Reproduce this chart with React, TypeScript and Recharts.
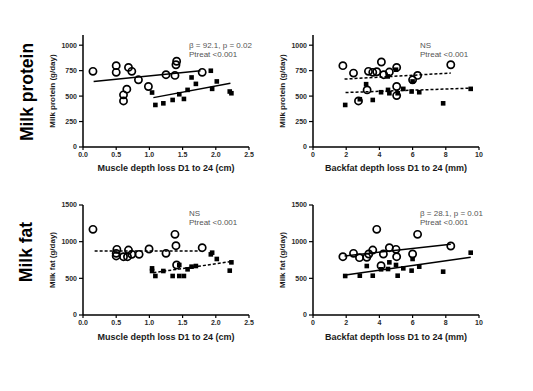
import { ScatterChart, Scatter, XAxis, YAxis } from 'recharts';

// [x, y] pairs; open = circles, filled = squares
const proteinMuscleOpen = [
  [0.15, 743], [0.5, 799], [0.5, 733], [0.685, 782], [0.735, 743], [0.835, 660], [0.66, 568], [0.61, 512],
  [0.61, 452], [0.985, 594], [1.25, 710], [1.385, 703], [1.41, 842], [1.4, 808], [1.795, 733],
];
const proteinMuscleFilled = [
  [1.04, 535], [1.09, 413], [1.21, 429], [1.35, 462], [1.45, 518], [1.52, 472], [1.575, 561], [1.635, 683],
  [1.7, 620], [1.925, 749], [1.945, 571], [2.015, 644], [2.21, 545], [2.235, 528],
];
const proteinMuscleOpenFit = [[0.16, 644], [1.77, 749]];
const proteinMuscleFilledFit = [[1.06, 485], [2.22, 627]];

const proteinBackfatOpen = [
  [1.8, 799], [2.44, 726], [3.34, 743], [3.6, 733], [3.84, 739], [4.12, 835], [4.26, 710], [4.6, 736],
  [5.04, 782], [5.04, 594], [5.04, 505], [6.0, 660], [6.3, 703], [8.3, 808], [3.26, 561], [2.74, 452],
];
const proteinBackfatFilled = [
  [1.94, 413], [2.82, 469], [3.2, 617], [3.6, 462], [4.1, 538], [4.52, 561], [4.6, 528], [4.5, 693],
  [5.0, 759], [5.1, 528], [5.44, 571], [5.94, 545], [6.0, 644], [6.4, 538], [7.84, 429], [9.5, 571],
];
const proteinBackfatOpenFit = [[1.9, 667], [8.3, 726]];
const proteinBackfatFilledFit = [[1.96, 535], [9.5, 578]];

const fatMuscleOpen = [
  [0.15, 1168], [0.51, 895], [0.5, 841], [0.5, 805], [0.61, 795], [0.67, 795], [0.685, 886], [0.735, 827],
  [0.845, 827], [0.995, 900], [1.25, 841], [1.385, 1100], [1.4, 945], [1.41, 682], [1.795, 918],
];
const fatMuscleFilled = [
  [1.04, 636], [1.04, 600], [1.09, 532], [1.21, 600], [1.35, 532], [1.45, 682], [1.45, 532], [1.52, 532],
  [1.575, 623], [1.635, 659], [1.7, 668], [1.925, 827], [1.945, 850], [2.015, 764], [2.21, 605], [2.235, 718],
];
const fatMuscleOpenFit = [[0.175, 873], [1.77, 873]];
const fatMuscleFilledFit = [[1.06, 577], [2.22, 727]];

const fatBackfatOpen = [
  [1.8, 795], [2.44, 841], [2.8, 782], [3.24, 786], [3.36, 832], [3.6, 886], [3.84, 1168], [4.24, 832],
  [4.1, 673], [4.6, 918], [5.0, 895], [5.04, 795], [6.0, 832], [6.3, 1100], [8.3, 941],
];
const fatBackfatFilled = [
  [1.94, 532], [2.82, 536], [3.24, 668], [3.6, 536], [4.1, 623], [4.52, 627], [4.6, 718], [5.0, 682],
  [5.1, 536], [5.44, 636], [5.94, 605], [6.0, 764], [6.4, 659], [7.84, 591], [9.5, 850],
];
const fatBackfatOpenFit = [[1.9, 805], [8.3, 964]];
const fatBackfatFilledFit = [[1.96, 545], [9.5, 786]];

const muscleTicks = [0, 0.5, 1.0, 1.5, 2.0, 2.5];
const backfatTicks = [0, 2, 4, 6, 8, 10];
const proteinTicks = [0, 250, 500, 750, 1000];
const fatTicks = [0, 500, 1000, 1500];

const toPts = (pairs: number[][]) => pairs.map(([x, y]) => ({ x, y }));

const openCircle = (p: any) => (
  <circle cx={p.cx} cy={p.cy} r={3.6} fill="none" stroke="#000" strokeWidth={1.7} />
);
const square = (p: any) => <rect x={p.cx - 2.3} y={p.cy - 2.3} width={4.6} height={4.6} fill="#000" />;
const noDot = () => <g />;

const tickStyle = { fontSize: 7, fontWeight: 700, fill: '#2a2a2a' };

interface PanelProps {
  left: number;
  top: number;
  axisH: number;
  xLabel: string;
  yLabel: string;
  xTicks: number[];
  xMax: number;
  yTicks: number[];
  yMax: number;
  decimals: number;
  open: number[][];
  filled: number[][];
  openFit: number[][];
  filledFit: number[][];
  dashed: boolean;
}

function Panel(p: PanelProps) {
  const fitLine = {
    stroke: '#000',
    strokeWidth: 1.5,
    strokeDasharray: p.dashed ? '3 2' : undefined,
  };
  return (
    <div style={{ position: 'absolute', left: p.left, top: p.top }}>
      <ScatterChart width={220} height={155} margin={{ top: 10, right: 11, bottom: 0, left: 0 }}>
        <XAxis
          type="number"
          dataKey="x"
          domain={[0, p.xMax]}
          ticks={p.xTicks}
          tickFormatter={(v) => Number(v).toFixed(p.decimals)}
          height={p.axisH}
          tick={tickStyle}
          tickSize={3}
          axisLine={{ stroke: '#000', strokeWidth: 1.5 }}
          tickLine={{ stroke: '#000', strokeWidth: 1.2 }}
          label={{ value: p.xLabel, position: 'center', dy: 4, fontSize: 9, fontWeight: 700, fill: '#1a1a1a' }}
        />
        <YAxis
          type="number"
          dataKey="y"
          domain={[0, p.yMax]}
          ticks={p.yTicks}
          width={43}
          tick={tickStyle}
          tickSize={4}
          tickMargin={2}
          axisLine={{ stroke: '#000', strokeWidth: 1.5 }}
          tickLine={{ stroke: '#000', strokeWidth: 1.2 }}
          label={{ value: p.yLabel, angle: -90, position: 'center', dx: -9, fontSize: 8, fontWeight: 700, fill: '#1a1a1a' }}
        />
        <Scatter data={toPts(p.openFit)} line={fitLine} shape={noDot} isAnimationActive={false} />
        <Scatter data={toPts(p.filledFit)} line={fitLine} shape={noDot} isAnimationActive={false} />
        <Scatter data={toPts(p.filled)} shape={square} isAnimationActive={false} />
        <Scatter data={toPts(p.open)} shape={openCircle} isAnimationActive={false} />
      </ScatterChart>
    </div>
  );
}

const noteStyle = { fontSize: 8, fill: '#555' };

export default function App() {
  return (
    <div
      style={{
        position: 'absolute',
        left: 0,
        top: 0,
        width: 533,
        height: 391,
        background: '#fff',
        fontFamily: '"Liberation Sans", Arial, sans-serif',
      }}
    >
      <Panel
        left={40} top={25} axisH={33}
        xLabel="Muscle depth loss D1 to 24 (cm)" yLabel="Milk protein (g/day)"
        xTicks={muscleTicks} xMax={2.5} yTicks={proteinTicks} yMax={1100} decimals={1}
        open={proteinMuscleOpen} filled={proteinMuscleFilled}
        openFit={proteinMuscleOpenFit} filledFit={proteinMuscleFilledFit} dashed={false}
      />
      <Panel
        left={270} top={25} axisH={33}
        xLabel="Backfat depth loss D1 to 24 (mm)" yLabel="Milk protein (g/day)"
        xTicks={backfatTicks} xMax={10} yTicks={proteinTicks} yMax={1100} decimals={0}
        open={proteinBackfatOpen} filled={proteinBackfatFilled}
        openFit={proteinBackfatOpenFit} filledFit={proteinBackfatFilledFit} dashed={true}
      />
      <Panel
        left={40} top={195} axisH={35}
        xLabel="Muscle depth loss D1 to 24 (cm)" yLabel="Milk fat (g/day)"
        xTicks={muscleTicks} xMax={2.5} yTicks={fatTicks} yMax={1500} decimals={1}
        open={fatMuscleOpen} filled={fatMuscleFilled}
        openFit={fatMuscleOpenFit} filledFit={fatMuscleFilledFit} dashed={true}
      />
      <Panel
        left={270} top={195} axisH={35}
        xLabel="Backfat depth loss D1 to 24 (mm)" yLabel="Milk fat (g/day)"
        xTicks={backfatTicks} xMax={10} yTicks={fatTicks} yMax={1500} decimals={0}
        open={fatBackfatOpen} filled={fatBackfatFilled}
        openFit={fatBackfatOpenFit} filledFit={fatBackfatFilledFit} dashed={false}
      />
      <svg width={533} height={391} style={{ position: 'absolute', left: 0, top: 0, pointerEvents: 'none' }}>
        <text x={27} y={92} transform="rotate(-90 27 92)" textAnchor="middle" dominantBaseline="central"
          fontSize={17.5} fontWeight={700} fill="#000">Milk protein</text>
        <text x={26} y={252} transform="rotate(-90 26 252)" textAnchor="middle" dominantBaseline="central"
          fontSize={17.5} fontWeight={700} fill="#000">Milk fat</text>
        <text x={189} y={48} {...noteStyle}>β = 92.1, p = 0.02</text>
        <text x={189} y={57} {...noteStyle}>Ptreat &lt;0.001</text>
        <text x={420} y={48} {...noteStyle}>NS</text>
        <text x={420} y={57} {...noteStyle}>Ptreat &lt;0.001</text>
        <text x={189} y={216} {...noteStyle}>NS</text>
        <text x={189} y={225} {...noteStyle}>Ptreat &lt;0.001</text>
        <text x={420} y={216} {...noteStyle}>β = 28.1, p = 0.01</text>
        <text x={420} y={225} {...noteStyle}>Ptreat &lt;0.001</text>
      </svg>
    </div>
  );
}
